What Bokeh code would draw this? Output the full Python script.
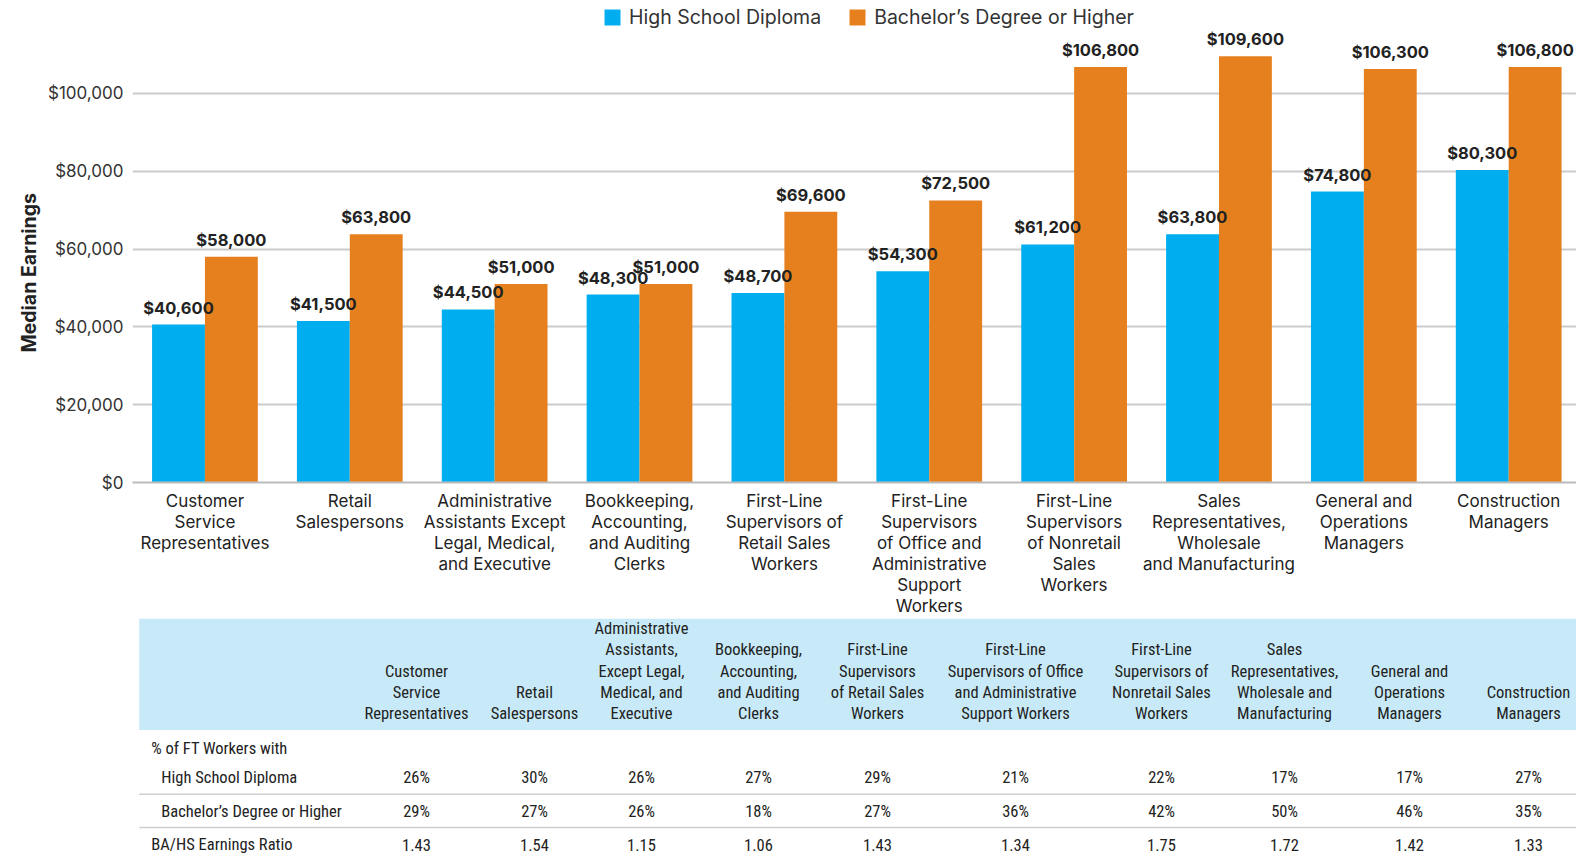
from bokeh.plotting import figure
from bokeh.models import (Range1d, FixedTicker, NumeralTickFormatter, Legend, LegendItem,
                          ColumnDataSource, Title)
from bokeh.transform import dodge
from bokeh.embed import file_html
from bokeh.resources import INLINE
from bokeh.core.properties import value

# ---------------- data ----------------
categories = [
    "Customer\nService\nRepresentatives",
    "Retail\nSalespersons",
    "Administrative\nAssistants Except\nLegal, Medical,\nand Executive",
    "Bookkeeping,\nAccounting,\nand Auditing\nClerks",
    "First-Line\nSupervisors of\nRetail Sales\nWorkers",
    "First-Line\nSupervisors\nof Office and\nAdministrative\nSupport\nWorkers",
    "First-Line\nSupervisors\nof Nonretail\nSales\nWorkers",
    "Sales\nRepresentatives,\nWholesale\nand Manufacturing",
    "General and\nOperations\nManagers",
    "Construction\nManagers",
]
series = ["High School Diploma", "Bachelor\u2019s Degree or Higher"]
hs_earnings = [40600, 41500, 44500, 48300, 48700, 54300, 61200, 63800, 74800, 80300]
ba_earnings = [58000, 63800, 51000, 51000, 69600, 72500, 106800, 109600, 106300, 106800]
y_ticks = [0, 20000, 40000, 60000, 80000, 100000]
y_title = "Median Earnings"

table_headers = [
    "Customer\nService\nRepresentatives",
    "Retail\nSalespersons",
    "Administrative\nAssistants,\nExcept Legal,\nMedical, and\nExecutive",
    "Bookkeeping,\nAccounting,\nand Auditing\nClerks",
    "First-Line\nSupervisors\nof Retail Sales\nWorkers",
    "First-Line\nSupervisors of Office\nand Administrative\nSupport Workers",
    "First-Line\nSupervisors of\nNonretail Sales\nWorkers",
    "Sales\nRepresentatives,\nWholesale and\nManufacturing",
    "General and\nOperations\nManagers",
    "Construction\nManagers",
]
row_group_label = "% of FT Workers with"
row_labels = ["High School Diploma", "Bachelor\u2019s Degree or Higher", "BA/HS Earnings Ratio"]
pct_hs = [26, 30, 26, 27, 29, 21, 22, 17, 17, 27]
pct_ba = [29, 27, 26, 18, 27, 36, 42, 50, 46, 35]
ratio = [1.43, 1.54, 1.15, 1.06, 1.43, 1.34, 1.75, 1.72, 1.42, 1.33]

# ---------------- styles / layout ----------------
BLUE = "#00AEEF"
ORANGE = "#E6801F"
HEAD_BG = "#C8EAF8"
TXT = "#222222"
FONT = "Inter"
COND = "'Roboto Condensed', 'Liberation Sans Narrow', 'DejaVu Sans Condensed', 'Open Sans', sans-serif"
W = 1576
FRAME_H = 482
BOTTOM = 136
H1 = FRAME_H + BOTTOM
H2 = 859 - H1
LEFT = 132
BAR_W = 0.365
OFF = BAR_W / 2

idx = list(range(len(categories)))
src = ColumnDataSource(dict(
    x=idx, hs=hs_earnings, ba=ba_earnings,
    hs_lbl=["${:,}".format(v) for v in hs_earnings],
    ba_lbl=["${:,}".format(v) for v in ba_earnings],
))

p = figure(width=W, height=H1, x_range=Range1d(-0.5, 9.468), y_range=Range1d(0, 123900),
           output_backend="svg", toolbar_location=None,
           min_border_left=LEFT, min_border_right=0, min_border_top=0, min_border_bottom=BOTTOM)
p.outline_line_color = None
p.background_fill_color = "white"

r1 = p.vbar(x=dodge("x", -OFF), top="hs", width=BAR_W, source=src,
            fill_color=BLUE, line_color=None)
r2 = p.vbar(x=dodge("x", OFF), top="ba", width=BAR_W, source=src,
            fill_color=ORANGE, line_color=None)

for col, lbl, off in (("hs", "hs_lbl", -OFF), ("ba", "ba_lbl", OFF)):
    p.text(x=dodge("x", off), y=col, text=lbl, source=src,
           text_align="center", text_baseline="alphabetic", y_offset=-17,
           text_font=value(FONT), text_font_style="bold", text_font_size="16.5px",
           text_color=TXT)

# y axis
p.yaxis.ticker = FixedTicker(ticks=y_ticks)
p.yaxis.formatter = NumeralTickFormatter(format="$0,0")
p.yaxis.major_label_text_font = FONT
p.yaxis.major_label_text_font_size = "17px"
p.yaxis.major_label_text_color = "#333333"
p.yaxis.axis_line_color = None
p.yaxis.major_tick_line_color = None
p.yaxis.minor_tick_line_color = None
p.yaxis.major_tick_out = 0
p.yaxis.major_label_standoff = 9

# y axis title, placed off-centre as in the original
p.add_layout(Title(text=y_title, align="left", offset=130, standoff=10,
                   text_font=FONT, text_font_style="bold", text_font_size="19.5px",
                   text_color=TXT), "left")

# x axis
p.xaxis.ticker = FixedTicker(ticks=idx)
p.xaxis.major_label_overrides = {i: c for i, c in zip(idx, categories)}
p.xaxis.major_label_text_font = FONT
p.xaxis.major_label_text_font_size = "17px"
p.xaxis.major_label_text_color = TXT
p.xaxis.major_label_text_line_height = 1.05
p.xaxis.axis_line_color = "#bbbbbb"
p.xaxis.axis_line_width = 2
p.xaxis.major_tick_line_color = None
p.xaxis.minor_tick_line_color = None
p.xaxis.major_tick_out = 0
p.xaxis.major_label_standoff = 8

p.xgrid.visible = False
p.ygrid.ticker = FixedTicker(ticks=y_ticks)
p.ygrid.grid_line_color = "#cccccc"
p.ygrid.grid_line_width = 2

legend = Legend(items=[LegendItem(label=series[0], renderers=[r1]),
                       LegendItem(label=series[1], renderers=[r2])],
                orientation="horizontal", location=(470, FRAME_H - 29),
                glyph_width=20, glyph_height=20, label_standoff=7, spacing=26,
                padding=0, margin=0, border_line_color=None, background_fill_alpha=0,
                label_text_font=FONT, label_text_font_size="19.5px", label_text_color="#333333")
p.add_layout(legend)

# ---------------- table ----------------
T0 = H1  # screen y of the table's top
col_x = [416, 534, 641, 758, 877, 1015, 1161, 1284, 1409, 1528]
t = figure(width=W, height=H2, x_range=Range1d(0, W), y_range=Range1d(H2, 0),
           output_backend="svg", toolbar_location=None,
           x_axis_location=None, y_axis_location=None, min_border=0)
t.outline_line_color = None
t.grid.visible = False

t.quad(left=[138.7], right=[W], top=[0], bottom=[729.4 - T0], fill_color=HEAD_BG, line_color=None)
t.text(x=col_x, y=[723 - T0] * len(col_x), text=table_headers,
       text_align="center", text_baseline="bottom", text_line_height=1.13,
       text_font=value(COND), text_font_size="16.5px", text_color=TXT)

row_y = [776.6 - T0, 810.8 - T0, 844 - T0]
t.text(x=[150.8], y=[747.5 - T0], text=[row_group_label], text_align="left", text_baseline="middle",
       text_font=value(COND), text_font_size="16.5px", text_color=TXT)
t.text(x=[160.8, 160.8, 150.8], y=row_y, text=row_labels, text_align="left", text_baseline="middle",
       text_font=value(COND), text_font_size="16.5px", text_color=TXT)

rows = [["{}%".format(v) for v in pct_hs],
        ["{}%".format(v) for v in pct_ba],
        ["{:.2f}".format(v) for v in ratio]]
for ry, vals in zip(row_y, rows):
    t.text(x=col_x, y=[ry] * len(col_x), text=vals, text_align="center", text_baseline="middle",
           text_font=value(COND), text_font_size="16.5px", text_color=TXT)

t.segment(x0=[138.7, 138.7], x1=[W, W], y0=[793.7 - T0, 826.9 - T0], y1=[793.7 - T0, 826.9 - T0],
          line_color="#cfcfcf", line_width=1.5)

open("out.html", "w").write(file_html([p, t], INLINE))
